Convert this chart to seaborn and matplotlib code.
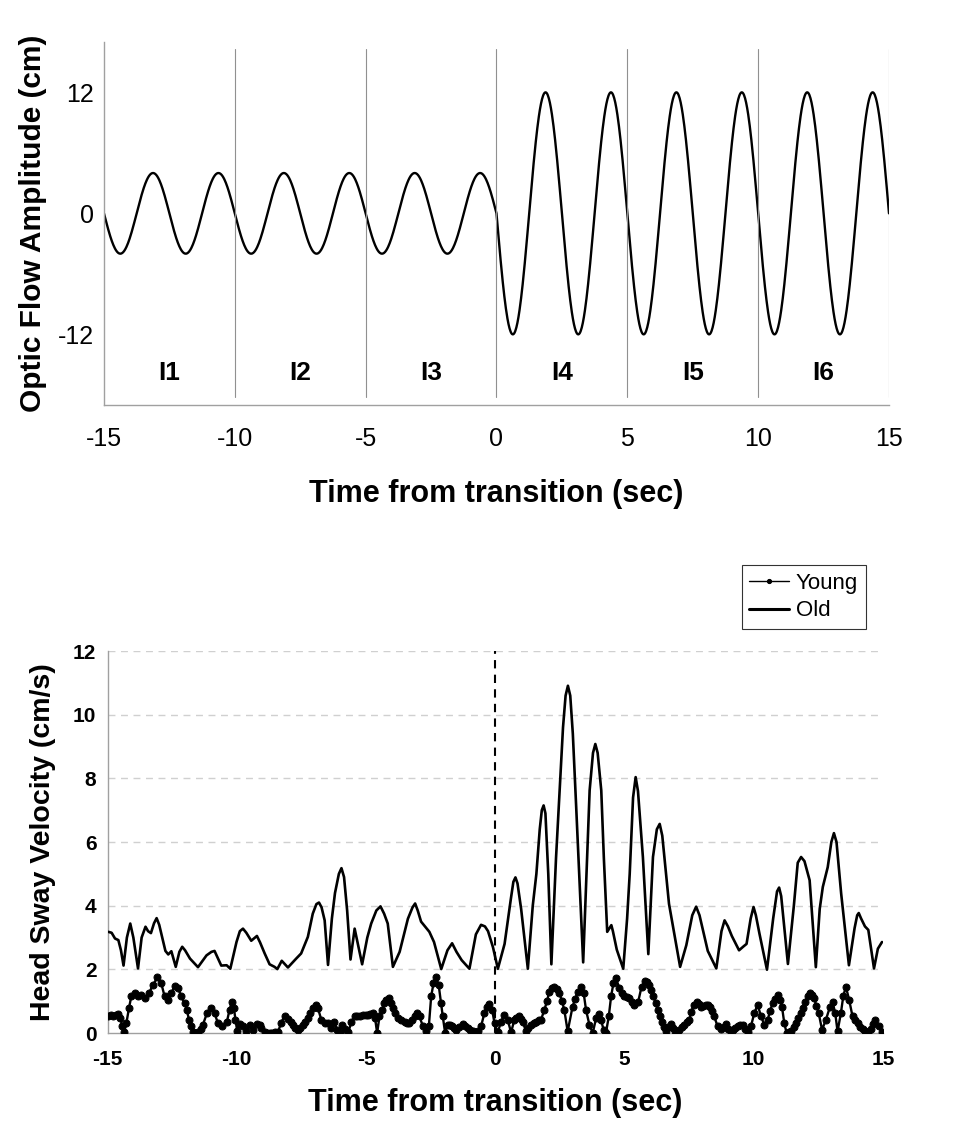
import numpy as np
import matplotlib
matplotlib.use("Agg")
import matplotlib.pyplot as plt
import seaborn as sns

# --- stimulus (top panel): sinusoidal optic flow, amplitude steps up at t=0 ---
stim_amplitude_pre = 4.0      # cm, before the transition
stim_amplitude_post = 12.0    # cm, after the transition
stim_period = 2.5             # s
stim_start, stim_end = -15.0, 15.0
interval_edges = [-15, -10, -5, 0, 5, 10, 15]
interval_names = ["I1", "I2", "I3", "I4", "I5", "I6"]

# --- head sway velocity (bottom panel) ---
old_time = [-14.97, -14.84, -14.71, -14.58, -14.48, -14.38, -14.25, -14.12, -14.0, -13.82,
            -13.68, -13.53, -13.43, -13.32, -13.2, -13.1, -13.0, -12.76, -12.65, -12.53,
            -12.36, -12.22, -12.11, -12.0, -11.81, -11.5, -11.17, -10.98, -10.86, -10.6,
            -10.39, -10.25, -10.01, -9.88, -9.76, -9.63, -9.44, -9.22, -9.1, -8.92,
            -8.73, -8.54, -8.43, -8.26, -8.02, -7.7, -7.51, -7.25, -7.06, -6.92,
            -6.82, -6.72, -6.6, -6.47, -6.32, -6.2, -6.05, -5.95, -5.85, -5.73,
            -5.6, -5.44, -5.29, -5.15, -4.95, -4.8, -4.6, -4.44, -4.3, -4.16,
            -3.96, -3.7, -3.38, -3.2, -3.1, -3.0, -2.87, -2.55, -2.37, -2.09,
            -1.85, -1.67, -1.5, -1.3, -1.0, -0.75, -0.55, -0.4, -0.28, -0.09,
            0.1, 0.36, 0.6, 0.7, 0.78, 0.86, 1.0, 1.26, 1.45, 1.59,
            1.72, 1.8, 1.87, 1.94, 2.05, 2.17, 2.35, 2.49, 2.62, 2.72,
            2.81, 2.9, 3.0, 3.13, 3.4, 3.55, 3.65, 3.78, 3.87, 3.96,
            4.1, 4.2, 4.33, 4.42, 4.49, 4.55, 4.7, 4.95, 5.1, 5.2,
            5.33, 5.43, 5.52, 5.71, 5.92, 6.1, 6.25, 6.36, 6.46, 6.72,
            7.15, 7.39, 7.62, 7.77, 7.9, 8.22, 8.55, 8.75, 8.87, 9.0,
            9.15, 9.43, 9.6, 9.72, 9.88, 9.99, 10.08, 10.22, 10.51, 10.75,
            10.9, 10.98, 11.06, 11.32, 11.55, 11.7, 11.83, 11.96, 12.16, 12.4,
            12.55, 12.67, 12.86, 13.0, 13.1, 13.2, 13.38, 13.68, 13.9, 14.0,
            14.06, 14.15, 14.3, 14.43, 14.65, 14.8, 14.96]
old_velocity = [3.18, 3.15, 2.97, 2.92, 2.6, 2.12, 3.0, 3.44, 3.0, 2.03,
                3.0, 3.34, 3.2, 3.14, 3.45, 3.61, 3.4, 2.58, 2.47, 2.57,
                2.08, 2.55, 2.71, 2.6, 2.34, 2.07, 2.44, 2.55, 2.58, 2.12,
                2.13, 2.02, 2.86, 3.2, 3.28, 3.15, 2.9, 3.05, 2.85, 2.5,
                2.16, 2.08, 2.01, 2.27, 2.06, 2.34, 2.5, 3.02, 3.75, 4.05,
                4.1, 3.95, 3.54, 2.14, 3.6, 4.4, 5.0, 5.18, 4.9, 3.85,
                2.31, 3.28, 2.7, 2.16, 3.0, 3.44, 3.85, 3.98, 3.75, 3.44,
                2.08, 2.55, 3.59, 3.95, 4.07, 3.85, 3.5, 3.18, 2.86, 2.01,
                2.6, 2.82, 2.55, 2.29, 2.02, 3.1, 3.4, 3.35, 3.2, 2.7,
                2.02, 2.8, 4.2, 4.75, 4.89, 4.7, 3.9, 2.02, 4.0, 5.0,
                6.4, 7.0, 7.15, 6.9, 5.0, 2.16, 5.5, 7.62, 9.6, 10.6,
                10.91, 10.6, 9.4, 7.1, 2.22, 5.5, 7.62, 8.8, 9.08, 8.8,
                7.62, 5.5, 3.18, 3.3, 3.39, 3.2, 2.62, 2.02, 3.6, 5.0,
                7.4, 8.04, 7.6, 5.53, 2.48, 5.53, 6.4, 6.57, 6.2, 4.06,
                2.08, 2.76, 3.7, 3.97, 3.7, 2.58, 2.03, 3.2, 3.54, 3.35,
                3.05, 2.6, 2.72, 2.8, 3.6, 3.96, 3.7, 3.12, 1.99, 3.6,
                4.45, 4.57, 4.3, 2.17, 4.0, 5.35, 5.53, 5.4, 4.8, 2.07,
                3.9, 4.59, 5.21, 6.0, 6.28, 6.0, 4.38, 2.13, 3.3, 3.7,
                3.77, 3.6, 3.35, 3.24, 2.03, 2.65, 2.86]

young_time = [-14.98, -14.88, -14.79, -14.69, -14.59, -14.5, -14.43, -14.36, -14.27, -14.17,
              -14.08, -13.95, -13.82, -13.69, -13.56, -13.4, -13.24, -13.07, -12.92, -12.79,
              -12.66, -12.53, -12.4, -12.27, -12.15, -12.02, -11.93, -11.85, -11.78, -11.69,
              -11.6, -11.5, -11.4, -11.31, -11.15, -11.01, -10.86, -10.73, -10.56, -10.38,
              -10.28, -10.19, -10.11, -10.05, -9.98, -9.89, -9.76, -9.63, -9.5, -9.37,
              -9.22, -9.12, -9.05, -8.92, -8.82, -8.73, -8.63, -8.54, -8.41, -8.28,
              -8.15, -8.02, -7.92, -7.83, -7.73, -7.63, -7.54, -7.44, -7.35, -7.25,
              -7.15, -7.05, -6.95, -6.86, -6.73, -6.6, -6.47, -6.37, -6.24, -6.11,
              -6.02, -5.93, -5.8, -5.68, -5.57, -5.44, -5.34, -5.25, -5.12, -5.02,
              -4.93, -4.83, -4.74, -4.65, -4.57, -4.48, -4.39, -4.29, -4.21, -4.13,
              -4.05, -3.96, -3.87, -3.77, -3.64, -3.51, -3.42, -3.32, -3.22, -3.12,
              -3.04, -2.93, -2.8, -2.68, -2.57, -2.48, -2.39, -2.29, -2.19, -2.1,
              -2.03, -1.94, -1.84, -1.76, -1.67, -1.6, -1.52, -1.39, -1.26, -1.16,
              -1.06, -0.97, -0.87, -0.78, -0.68, -0.55, -0.42, -0.33, -0.25, -0.12,
              -0.03, 0.1, 0.22, 0.35, 0.48, 0.61, 0.74, 0.82, 0.91, 0.98,
              1.06, 1.19, 1.28, 1.38, 1.48, 1.58, 1.68, 1.77, 1.9, 2.0,
              2.09, 2.19, 2.29, 2.39, 2.48, 2.58, 2.67, 2.8, 2.99, 3.09,
              3.19, 3.32, 3.42, 3.51, 3.64, 3.77, 3.9, 4.0, 4.09, 4.19,
              4.28, 4.39, 4.48, 4.57, 4.67, 4.8, 4.9, 4.99, 5.09, 5.18,
              5.28, 5.38, 5.53, 5.66, 5.79, 5.88, 5.96, 6.04, 6.12, 6.2,
              6.28, 6.36, 6.45, 6.52, 6.6, 6.7, 6.8, 6.88, 6.95, 7.04,
              7.12, 7.21, 7.31, 7.4, 7.5, 7.58, 7.67, 7.8, 7.88, 7.95,
              8.05, 8.15, 8.24, 8.32, 8.4, 8.47, 8.6, 8.75, 8.84, 8.92,
              8.99, 9.09, 9.18, 9.28, 9.38, 9.47, 9.57, 9.66, 9.76, 9.89,
              10.02, 10.15, 10.28, 10.41, 10.54, 10.63, 10.73, 10.82, 10.92, 11.01,
              11.09, 11.18, 11.27, 11.35, 11.44, 11.54, 11.63, 11.72, 11.82, 11.9,
              11.99, 12.08, 12.17, 12.25, 12.34, 12.42, 12.51, 12.64, 12.79, 12.95,
              13.05, 13.15, 13.24, 13.37, 13.46, 13.56, 13.69, 13.82, 13.92, 14.02,
              14.12, 14.21, 14.3, 14.4, 14.53, 14.62, 14.7, 14.83, 14.96]
young_velocity = [0.55, 0.56, 0.55, 0.58, 0.6, 0.47, 0.21, 0.03, 0.31, 0.78,
                  1.15, 1.25, 1.15, 1.2, 1.09, 1.25, 1.51, 1.75, 1.56, 1.15,
                  1.04, 1.25, 1.48, 1.41, 1.15, 0.94, 0.73, 0.42, 0.21, 0.02,
                  0.01, 0.02, 0.12, 0.26, 0.63, 0.78, 0.63, 0.31, 0.21, 0.36,
                  0.73, 0.99, 0.78, 0.42, 0.05, 0.29, 0.21, 0.08, 0.26, 0.1,
                  0.29, 0.24, 0.15, 0.02, 0.01, 0.0, 0.01, 0.02, 0.02, 0.33,
                  0.54, 0.44, 0.35, 0.26, 0.17, 0.1, 0.17, 0.26, 0.36, 0.47,
                  0.62, 0.78, 0.89, 0.78, 0.42, 0.31, 0.31, 0.16, 0.36, 0.1,
                  0.0, 0.26, 0.13, 0.02, 0.36, 0.52, 0.52, 0.52, 0.57, 0.57,
                  0.57, 0.6, 0.63, 0.47, 0.0, 0.52, 0.73, 0.94, 1.03, 1.09,
                  0.95, 0.78, 0.62, 0.47, 0.4, 0.36, 0.33, 0.31, 0.42, 0.52,
                  0.63, 0.52, 0.21, 0.05, 0.21, 1.15, 1.56, 1.77, 1.51, 0.94,
                  0.52, 0.0, 0.26, 0.24, 0.21, 0.15, 0.1, 0.2, 0.29, 0.22,
                  0.16, 0.1, 0.05, 0.04, 0.05, 0.21, 0.63, 0.82, 0.92, 0.73,
                  0.31, 0.02, 0.36, 0.57, 0.42, 0.02, 0.42, 0.48, 0.52, 0.45,
                  0.36, 0.05, 0.15, 0.26, 0.32, 0.36, 0.4, 0.42, 0.73, 1.0,
                  1.3, 1.4, 1.44, 1.38, 1.25, 1.0, 0.73, 0.05, 0.83, 1.08,
                  1.3, 1.46, 1.25, 0.73, 0.26, 0.0, 0.47, 0.6, 0.42, 0.1,
                  0.0, 0.52, 1.15, 1.56, 1.72, 1.41, 1.25, 1.15, 1.12, 1.09,
                  0.98, 0.89, 0.99, 1.46, 1.65, 1.6, 1.51, 1.34, 1.15, 0.95,
                  0.73, 0.55, 0.36, 0.2, 0.05, 0.18, 0.29, 0.15, 0.05, 0.08,
                  0.1, 0.18, 0.26, 0.34, 0.42, 0.65, 0.89, 0.99, 0.92, 0.83,
                  0.86, 0.89, 0.87, 0.83, 0.68, 0.52, 0.21, 0.13, 0.2, 0.29,
                  0.13, 0.11, 0.1, 0.15, 0.21, 0.24, 0.26, 0.14, 0.02, 0.21,
                  0.63, 0.89, 0.52, 0.26, 0.42, 0.7, 0.94, 1.08, 1.2, 1.05,
                  0.83, 0.31, 0.0, 0.03, 0.05, 0.18, 0.31, 0.47, 0.63, 0.8,
                  0.99, 1.15, 1.27, 1.2, 1.09, 0.85, 0.63, 0.1, 0.42, 0.83,
                  0.96, 0.63, 0.05, 0.63, 1.15, 1.46, 1.04, 0.52, 0.4, 0.31,
                  0.2, 0.13, 0.06, 0.02, 0.13, 0.3, 0.42, 0.21, 0.02]

sns.set_theme(style="white")
plt.rcParams["font.family"] = ["Liberation Sans", "DejaVu Sans"]
plt.rcParams["axes.unicode_minus"] = False
for key in ["text.color", "axes.labelcolor", "xtick.labelcolor", "ytick.labelcolor"]:
    plt.rcParams[key] = "black"

fig = plt.figure(figsize=(9.59, 11.42), dpi=100)
ax1 = fig.add_axes([0.1084, 0.6454, 0.8186, 0.3179])
ax2 = fig.add_axes([0.1121, 0.0954, 0.8087, 0.3345])

spine_grey = "#a0a0a0"

# ---------- top panel ----------
t = np.linspace(stim_start, stim_end, 1501)
amp = np.where(t < 0, stim_amplitude_pre, stim_amplitude_post)
flow = -amp * np.sin(2 * np.pi * (t - stim_start) / stim_period)
sns.lineplot(x=t, y=flow, ax=ax1, color="black", linewidth=1.7, sort=False, estimator=None)

for edge in interval_edges[1:]:
    ax1.axvline(edge, ymin=0.022, ymax=0.98, color="#909090", linewidth=0.8)
for i, name in enumerate(interval_names):
    mid = (interval_edges[i] + interval_edges[i + 1]) / 2
    ax1.text(mid, -15.8, name, ha="center", va="center", fontsize=19, fontweight="bold")

ax1.set_xlim(-15, 15)
ax1.set_ylim(-19, 17)
ax1.set_xticks([-15, -10, -5, 0, 5, 10, 15])
ax1.set_yticks([-12, 0, 12])
ax1.tick_params(axis="x", labelsize=18, length=0, pad=16)
ax1.tick_params(axis="y", labelsize=18, length=0, pad=7)
ax1.set_xlabel("Time from transition (sec)", fontsize=22, fontweight="bold", labelpad=20)
ax1.set_ylabel("Optic Flow Amplitude (cm)", fontsize=21.5, fontweight="bold", labelpad=8)
for side in ["top", "right"]:
    ax1.spines[side].set_visible(False)
for side in ["left", "bottom"]:
    ax1.spines[side].set_color(spine_grey)
    ax1.spines[side].set_linewidth(1.0)

# ---------- bottom panel ----------
for level in [2, 4, 6, 8, 10, 12]:
    ax2.axhline(level, color="#d0d0d0", linewidth=1.0, linestyle=(0, (5, 4)), zorder=0)
ax2.axvline(0, ymin=0, ymax=1, color="black", linewidth=1.5, linestyle=(0, (4, 3)), zorder=1)

sns.lineplot(x=young_time, y=young_velocity, ax=ax2, color="black", linewidth=1.7,
             marker="o", markersize=5, markeredgecolor="black", sort=False,
             estimator=None, label="Young", zorder=3)
sns.lineplot(x=old_time, y=old_velocity, ax=ax2, color="black", linewidth=1.9,
             sort=False, estimator=None, label="Old", zorder=3)

ax2.set_xlim(-15, 15)
ax2.set_ylim(0, 12)
ax2.set_xticks([-15, -10, -5, 0, 5, 10, 15])
ax2.set_yticks([0, 2, 4, 6, 8, 10, 12])
ax2.tick_params(axis="x", labelsize=15, length=5, color=spine_grey, pad=7)
ax2.tick_params(axis="y", labelsize=15, length=0, pad=8)
for lab in ax2.get_xticklabels() + ax2.get_yticklabels():
    lab.set_fontweight("bold")
ax2.set_xlabel("Time from transition (sec)", fontsize=22, fontweight="bold", labelpad=14)
ax2.set_ylabel("Head Sway Velocity (cm/s)", fontsize=20.5, fontweight="bold", labelpad=12)
for side in ["top", "right"]:
    ax2.spines[side].set_visible(False)
for side in ["left", "bottom"]:
    ax2.spines[side].set_color(spine_grey)
    ax2.spines[side].set_linewidth(1.0)

leg = ax2.legend(loc="upper right", bbox_to_anchor=(0.903, 0.5053),
                 bbox_transform=fig.transFigure, borderaxespad=0, fontsize=16,
                 frameon=True, fancybox=False, edgecolor="black", handlelength=1.8,
                 borderpad=0.35, labelspacing=0.3, handletextpad=0.3)
leg.get_frame().set_linewidth(0.8)
for h in leg.legend_handles:
    h.set_markersize(3)
leg.legend_handles[0].set_linewidth(1.0)
leg.legend_handles[1].set_linewidth(2.2)

fig.savefig("out.png", dpi=100)
